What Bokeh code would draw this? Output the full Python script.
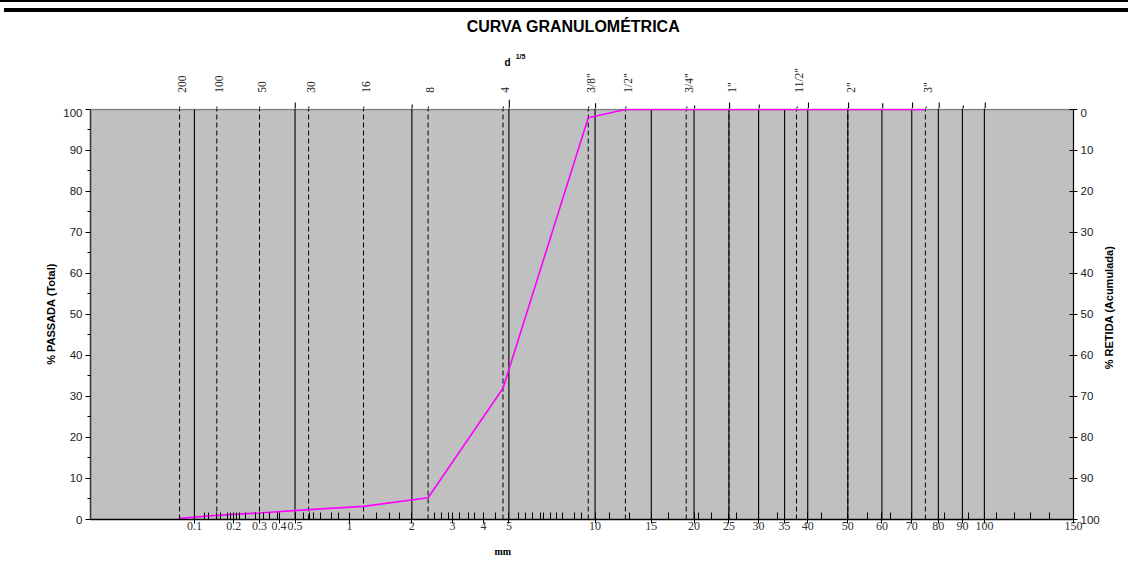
import numpy as np
from bokeh.plotting import figure
from bokeh.models import (Range1d, LinearAxis, FixedTicker, CustomJSTickFormatter,
                          BoxAnnotation, Span, ColumnDataSource, Div, Title)
from bokeh.layouts import column, row
from bokeh.core.properties import value
from bokeh.embed import file_html
from bokeh.resources import INLINE

# ---------------- data ----------------
title_text = "CURVA GRANULOMÉTRICA"
y_left_title = "% PASSADA (Total)"
y_right_title = "% RETIDA (Acumulada)"
x_title = "mm"
sieve_labels = ["200", "100", "50", "30", "16", "8", "4",
                '3/8"', '1/2"', '3/4"', '1"', '11/2"', '2"', '3"']
sieve_mm = [0.075, 0.15, 0.3, 0.6, 1.18, 2.36, 4.75,
            9.5, 12.5, 19, 25, 37.5, 50, 75]
passing_pct = [0.3, 1.0, 1.6, 2.4, 3.2, 5.3, 32.0,
               98.0, 100, 100, 100, 100, 100, 100]

x_tick_mm = [0.1, 0.2, 0.3, 0.4, 0.5, 1, 2, 3, 4, 5, 10, 15, 20, 25, 30, 35,
             40, 50, 60, 70, 80, 90, 100, 150]
x_tick_labels = ["0.1", "0.2", "0.3", "0.4", "0.5", "1", "2", "3", "4", "5",
                 "10", "15", "20", "25", "30", "35", "40", "50", "60", "70",
                 "80", "90", "100", "150"]
x_minor_mm = [0.12, 0.13, 0.15, 0.16, 0.18, 0.19, 0.21, 0.22, 0.24, 0.28, 0.32,
              0.35, 0.39, 0.56, 0.61, 0.64, 0.7, 0.8, 0.88, 1.37, 1.57, 1.76,
              2.52, 2.7, 2.89, 3.2, 3.48, 3.67, 4.44, 5.42, 5.74, 6.13, 6.5,
              6.7, 7.07, 7.44, 7.81, 8.55, 9.0, 11.1, 12.9, 16.9, 20.6, 22.4,
              26.2, 33.6, 43.3, 55.5, 62.6, 82.4, 92.7, 106, 115, 124, 135]
solid_mm = [0.1, 0.5, 2, 5, 10, 15, 20, 25, 30, 35, 40, 50, 60, 70, 80, 90, 100]
solid_top = [100, 101.7, 101.2, 102.4, 101.5, 100, 101, 101.7, 101.2, 100.2,
             101.7, 101.7, 101.5, 101.7, 101.7, 101, 101.7]
y_ticks = [0, 10, 20, 30, 40, 50, 60, 70, 80, 90, 100]
y_minor = [5, 15, 25, 35, 45, 55, 65, 75, 85, 95]

EXP = 0.2  # d^(1/5) scale


def u(vals):
    return [float(v) ** EXP for v in vals]


SANS = "Liberation Sans"
SERIF = "Liberation Serif"
W = 1128
W_MAIN = 1102
W_SIDE = W - W_MAIN
PX_PER_PCT = 4.1
X0, X1 = 0.38355, 150 ** EXP
xr = Range1d(X0, X1)

H_TOP = 96                      # header strip (title, d^1/5, sieve labels)
H_MAIN = 468
Y_END = 100.24                  # top of main frame
Y_TOP_END = Y_END + H_TOP / PX_PER_PCT


def vlines(fig):
    fig.segment(x0=u(solid_mm), y0=0, x1=u(solid_mm), y1=solid_top,
                line_color="black", line_width=1.1)
    fig.segment(x0=u(sieve_mm), y0=0, x1=u(sieve_mm), y1=101,
                line_color="black", line_width=1, line_dash="5 3")


def bare(fig):
    fig.outline_line_color = None
    fig.grid.visible = False
    fig.background_fill_color = "white"
    fig.border_fill_color = "white"


# ---------------- header figure ----------------
top = figure(width=W, height=H_TOP, output_backend="svg", toolbar_location=None,
             x_range=xr, y_range=Range1d(Y_END, Y_TOP_END),
             min_border_left=90, min_border_right=54, min_border_top=0,
             min_border_bottom=0, x_axis_type=None, y_axis_type=None)
bare(top)
vlines(top)
src_s = ColumnDataSource(dict(x=u(sieve_mm), t=sieve_labels))
top.text(x="x", y=104.1, text="t", source=src_s, angle=np.pi / 2,
         text_align="left", text_baseline="middle", x_offset=2,
         text_font=value(SERIF), text_font_size="11.5px", text_color="#222222")
top.text(x=[1.5324], y=[120.24], text=[title_text], text_align="center",
         text_baseline="middle", text_font=value(SANS), text_font_size="16px",
         text_font_style="bold", text_color="black")
top.text(x=[1.3754], y=[111.4], text=["d"], text_align="center",
         text_baseline="middle", text_font=value(SANS), text_font_size="10px",
         text_font_style="bold", text_color="black")
top.text(x=[1.4064], y=[112.9], text=["1/5"], text_align="center",
         text_baseline="middle", text_font=value(SANS), text_font_size="7px",
         text_font_style="bold", text_color="black")

# ---------------- main figure ----------------
p = figure(width=W_MAIN, height=H_MAIN, output_backend="svg", toolbar_location=None,
           x_range=xr, y_range=Range1d(0, Y_END),
           min_border_left=90, min_border_right=W_MAIN - 1074, min_border_top=0,
           min_border_bottom=57, x_axis_type=None, y_axis_type=None)
bare(p)
p.add_layout(BoxAnnotation(bottom=0, top=100, fill_color="#c0c0c0", fill_alpha=1,
                           line_color=None, level="underlay"))
p.add_layout(Span(location=100, dimension="width", line_color="#7f7f7f",
                  line_width=1.5, level="underlay"))
vlines(p)
p.line(x=u(sieve_mm), y=passing_pct, line_color="#ff00ff", line_width=1.6)

# bottom axis (mm)
xt = u(x_tick_mm)
xfmt = CustomJSTickFormatter(args=dict(tvals=xt, labs=x_tick_labels), code="""
let best = 0, bd = Infinity;
for (let i = 0; i < tvals.length; i++) {
  const dd = Math.abs(tvals[i] - tick);
  if (dd < bd) { bd = dd; best = i; }
}
return labs[best];
""")
xax = LinearAxis(ticker=FixedTicker(ticks=xt, minor_ticks=u(x_minor_mm)),
                 formatter=xfmt)
xax.axis_line_color = "black"
xax.axis_line_width = 1.5
xax.major_tick_in = 7
xax.major_tick_out = 4
xax.major_tick_line_color = "black"
xax.minor_tick_in = 7
xax.minor_tick_out = 0
xax.minor_tick_line_color = "black"
xax.major_label_standoff = -2
xax.major_label_text_font = SERIF
xax.major_label_text_font_size = "12px"
xax.major_label_text_color = "#333333"
p.add_layout(xax, "below")

p.add_layout(Title(text=x_title, align="left", offset=404, standoff=22,
                   text_font=SERIF, text_font_size="10px", text_font_style="bold",
                   text_color="black"), "below")

# left axis (% passing)
yax = LinearAxis(ticker=FixedTicker(ticks=y_ticks, minor_ticks=y_minor),
                 bounds=(0, 100), axis_label=y_left_title)
yax.axis_line_color = "#333333"
yax.axis_line_width = 1.5
yax.major_tick_in = 0
yax.major_tick_out = 5
yax.minor_tick_in = 0
yax.minor_tick_out = 3
yax.major_label_standoff = 3
yax.major_label_text_font = SANS
yax.major_label_text_font_size = "11.5px"
yax.major_label_text_color = "#222222"
yax.axis_label_standoff = 3
yax.axis_label_text_font = SANS
yax.axis_label_text_font_size = "11px"
yax.axis_label_text_font_style = "bold"
yax.axis_label_text_color = "black"
p.add_layout(yax, "left")

# right axis (% retained)
p.extra_y_ranges = {"ret": Range1d(start=100, end=100 - Y_END)}
rax = LinearAxis(y_range_name="ret", ticker=FixedTicker(ticks=y_ticks, minor_ticks=[]),
                 bounds=(0, 100))
rax.axis_line_color = "black"
rax.axis_line_width = 1.2
rax.major_tick_in = 4
rax.major_tick_out = 4
rax.major_label_standoff = 3
rax.major_label_text_font = SANS
rax.major_label_text_font_size = "11.5px"
rax.major_label_text_color = "#222222"
p.add_layout(rax, "right")

# ---------------- side strip carrying the right-hand axis title ----------------
side = figure(width=W_SIDE, height=H_MAIN, output_backend="svg", toolbar_location=None,
              x_range=Range1d(0, 1), y_range=Range1d(0, Y_END),
              min_border_left=0, min_border_right=0, min_border_top=0,
              min_border_bottom=57, x_axis_type=None, y_axis_type=None)
bare(side)
side.text(x=[6.0 / W_SIDE], y=[51.7], text=[y_right_title], angle=np.pi / 2,
          text_align="center", text_baseline="middle", text_font=value(SANS),
          text_font_size="11px", text_font_style="bold", text_color="black")

bars_html = ('<div style="width:1128px;height:2px;background:#000"></div>'
             '<div style="margin:6px 0 0 4px;width:1124px;height:4px;background:#000"></div>')
bar = Div(text=bars_html, width=W, height=12, margin=0)
layout = column(bar, top, row(p, side, spacing=0), spacing=0)

open("out.html", "w").write(file_html(layout, INLINE))
